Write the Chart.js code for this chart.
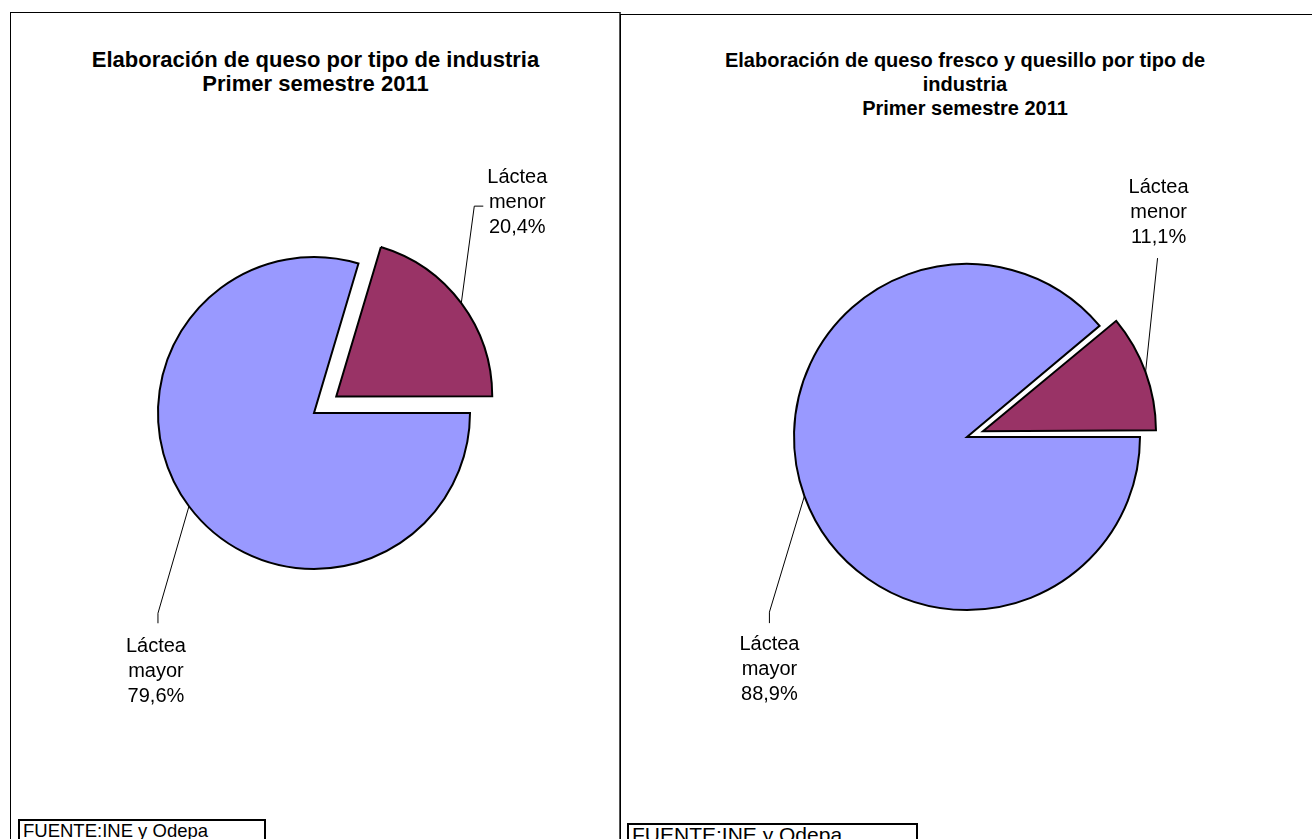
<!DOCTYPE html>
<html>
<head>
<meta charset="utf-8">
<script src="https://cdn.jsdelivr.net/npm/chart.js@4/dist/chart.umd.min.js"></script>
<style>
  html, body { margin: 0; padding: 0; background: #fff; width: 1312px; height: 839px; overflow: hidden; position: relative; font-family: "Liberation Sans", Arial, sans-serif; }
  .panel { position: absolute; box-sizing: border-box; }
  #panelL { left: 10px; top: 12px; width: 611px; height: 900px; border: 1px solid #000; border-right: 2px solid #555; }
  #panelR { left: 620px; top: 14px; width: 800px; height: 900px; border-top: 1px solid #000; border-left: 1px solid #000; }
  .title { position: absolute; font-weight: bold; line-height: 24px; text-align: center; color: #000; white-space: nowrap; }
  #titleL { left: 10px; width: 611px; top: 48px; font-size: 22px; }
  #titleR { left: 665px; width: 600px; top: 48px; font-size: 20px; }
  .src { position: absolute; box-sizing: border-box; border: 2px solid #000; padding: 0 0 0 3px; height: 40px; background: #fff; white-space: nowrap; }
  #srcL { left: 18px; top: 819px; width: 248px; font-size: 18.5px; line-height: 19px; }
  #srcR { left: 627px; top: 823px; width: 291px; font-size: 21px; line-height: 19px; }
  canvas { position: absolute; left: 0; top: 0; }
</style>
</head>
<body>
<div class="panel" id="panelL"></div>
<div class="panel" id="panelR"></div>
<div class="title" id="titleL">Elaboración de queso por tipo de industria<br>Primer semestre 2011</div>
<div class="title" id="titleR">Elaboración de queso fresco y quesillo por tipo de<br>industria<br>Primer semestre 2011</div>
<canvas id="cL" width="1312" height="839"></canvas>
<canvas id="cR" width="1312" height="839"></canvas>
<div class="src" id="srcL">FUENTE:INE y Odepa</div>
<div class="src" id="srcR">FUENTE:INE y Odepa</div>
<script>
// ---- Data ----
const categories = ['Láctea mayor', 'Láctea menor'];
const quesoValues = [79.6, 20.4];          // Elaboración de queso
const frescoValues = [88.9, 11.1];         // Queso fresco y quesillo
const sliceColors = ['#9999FF', '#993366'];

// ---- Label / leader plugin ----
const pieLabels = {
  id: 'pieLabels',
  beforeDatasetsDraw(chart) {
    const meta = chart.getDatasetMeta(0);
    const R = chart.options.plugins.pieLabels.radius;
    meta.data.forEach(arc => {
      const off = (arc.options.offset || 0) / 4;
      const fix = 1 - Math.sin(Math.min(Math.PI, arc.circumference));
      arc.outerRadius = R - off * fix;
    });
  },
  afterDatasetsDraw(chart) {
    const cfg = chart.options.plugins.pieLabels;
    const meta = chart.getDatasetMeta(0);
    const ds = chart.data.datasets[0];
    const ctx = chart.ctx;
    ctx.save();
    meta.data.forEach((arc, i) => {
      const mid = (arc.startAngle + arc.endAngle) / 2;
      const off = (arc.options.offset || 0) / 4;
      const cx = arc.x + Math.cos(mid) * off;
      const cy = arc.y + Math.sin(mid) * off;
      const ax = cx + Math.cos(mid) * cfg.radius;
      const ay = cy + Math.sin(mid) * cfg.radius;
      const p = cfg.place[i];
      ctx.strokeStyle = '#000';
      ctx.lineWidth = 1;
      ctx.beginPath();
      ctx.moveTo(ax, ay);
      const ex = ax + p.leader[0], ey = ay + p.leader[1];
      ctx.lineTo(ex, ey);
      if (p.stub) ctx.lineTo(ex + p.stub[0], ey + p.stub[1]);
      ctx.stroke();
      const label = chart.data.labels[i].split(' ');
      const lines = [label[0], label[1], ds.data[i].toFixed(1).replace('.', ',') + '%'];
      ctx.fillStyle = '#000';
      ctx.font = cfg.font;
      ctx.textAlign = 'center';
      ctx.textBaseline = 'middle';
      lines.forEach((t, k) => ctx.fillText(t, ax + p.text[0], ay + p.text[1] + k * cfg.lineHeight));
    });
    ctx.restore();
  }
};

function makePie(id, values, padding, radius, offsetMenor, place) {
  return new Chart(document.getElementById(id), {
    type: 'pie',
    data: {
      labels: categories,
      datasets: [{
        data: values,
        backgroundColor: sliceColors,
        borderColor: '#000',
        borderWidth: 2,
        borderJoinStyle: 'miter',
        offset: [0, offsetMenor]
      }]
    },
    options: {
      responsive: false,
      animation: false,
      rotation: 90,
      radius: radius,
      layout: { padding: padding },
      events: [],
      plugins: {
        legend: { display: false },
        tooltip: { enabled: false },
        title: { display: false },
        pieLabels: {
          radius: radius,
          font: '20px "Liberation Sans", Arial, sans-serif',
          lineHeight: 25,
          place: place
        }
      }
    },
    plugins: [pieLabels]
  });
}

makePie('cL', quesoValues, { left: 0, right: 684, top: 0, bottom: 13 }, 156, 111, [
  { leader: [-31, 107], stub: [0, 10], text: [-33, 140] },
  { leader: [13, -97], stub: [9, 0], text: [56, -126] }
]);
makePie('cR', frescoValues, { left: 622, right: 0, top: 35, bottom: 0 }, 173, 68, [
  { leader: [-35, 116], stub: [0, 11], text: [-35, 148] },
  { leader: [12, -114], stub: null, text: [13, -185] }
]);
</script>
</body>
</html>
